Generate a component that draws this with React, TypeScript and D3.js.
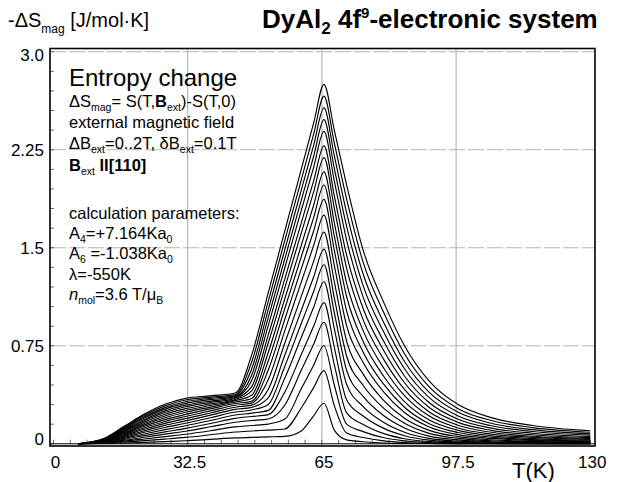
import React from "react";
import * as d3 from "d3";

// Temperatures (K) at which every curve is sampled
const T_K = [6, 12, 17, 22, 27, 32, 38, 44, 48, 52, 56, 60, 63, 65.5, 68, 71, 75, 80, 85, 91, 98, 106, 116, 130];

// -ΔS_mag (J/mol·K) for ΔB_ext = 0.1 T ... 2.0 T
const s01 = [0, .002, .006, .011, .017, .023, .034, .045, .049, .053, .057, .098, .214, .31, .105, .030, .016, .006, .003, .002, .001, .001, .0005, .0003];
const s02 = [0, .004, .013, .024, .036, .049, .069, .09, .098, .105, .113, .274, .430, .56, .292, .082, .048, .022, .010, .004, .0015, .001, .0005, .0003];
const s03 = [0, .006, .020, .037, .055, .073, .100, .13, .140, .151, .189, .421, .601, .75, .45, .15, .093, .046, .022, .009, .004, .002, .001, .0005];
const s04 = [0, .008, .027, .050, .074, .096, .130, .165, .178, .190, .295, .562, .762, .93, .605, .236, .148, .078, .039, .017, .008, .004, .002, .001];
const s05 = [0, .010, .034, .063, .091, .118, .155, .195, .209, .223, .395, .683, .899, 1.08, .738, .335, .213, .118, .062, .028, .013, .007, .004, .002];
const s06 = [0, .012, .041, .075, .108, .138, .178, .22, .235, .256, .501, .813, 1.045, 1.24, .882, .454, .285, .163, .089, .042, .021, .011, .006, .004];
const s07 = [0, .014, .049, .088, .125, .157, .199, .243, .259, .301, .592, .920, 1.165, 1.37, 1.003, .561, .363, .214, .121, .059, .030, .016, .010, .006];
const s08 = [0, .016, .055, .100, .141, .175, .219, .263, .279, .352, .678, 1.020, 1.276, 1.49, 1.117, .670, .446, .271, .157, .080, .042, .023, .014, .009];
const s09 = [0, .018, .062, .111, .156, .193, .236, .28, .296, .415, .769, 1.128, 1.396, 1.62, 1.24, .784, .533, .331, .196, .103, .055, .031, .019, .012];
const s10 = [0, .020, .069, .123, .171, .209, .252, .295, .311, .490, .864, 1.237, 1.517, 1.75, 1.365, .903, .622, .395, .239, .129, .070, .041, .026, .017];
const s11 = [0, .022, .076, .134, .185, .225, .267, .308, .325, .564, .951, 1.338, 1.628, 1.87, 1.482, 1.015, .701, .454, .280, .154, .086, .051, .032, .021];
const s12 = [0, .024, .082, .145, .199, .241, .281, .32, .346, .634, 1.033, 1.431, 1.730, 1.98, 1.591, 1.125, .782, .515, .323, .182, .103, .062, .040, .027];
const s13 = [0, .026, .089, .155, .213, .255, .293, .33, .371, .699, 1.108, 1.518, 1.825, 2.08, 1.693, 1.228, .864, .578, .368, .212, .121, .074, .049, .033];
const s14 = [0, .027, .095, .166, .226, .269, .305, .339, .405, .771, 1.191, 1.612, 1.927, 2.19, 1.804, 1.341, .948, .644, .416, .244, .142, .088, .058, .040];
const s15 = [0, .029, .101, .176, .239, .283, .316, .347, .438, .831, 1.260, 1.690, 2.012, 2.28, 1.899, 1.441, 1.033, .712, .467, .278, .164, .103, .069, .047];
const s16 = [0, .031, .108, .186, .252, .296, .327, .354, .484, .904, 1.345, 1.785, 2.115, 2.39, 2.012, 1.557, 1.120, .782, .519, .314, .188, .120, .081, .056];
const s17 = [0, .033, .114, .197, .265, .309, .338, .361, .527, .966, 1.414, 1.863, 2.200, 2.48, 2.108, 1.661, 1.208, .853, .574, .353, .213, .138, .094, .066];
const s18 = [0, .034, .120, .207, .277, .322, .348, .367, .574, 1.027, 1.484, 1.941, 2.284, 2.57, 2.204, 1.765, 1.297, .927, .630, .393, .241, .157, .108, .076];
const s19 = [0, .036, .126, .217, .290, .335, .357, .376, .626, 1.090, 1.555, 2.020, 2.369, 2.66, 2.302, 1.872, 1.388, 1.003, .689, .435, .269, .178, .124, .088];
const s20 = [0, .038, .132, .227, .302, .348, .367, .389, .680, 1.154, 1.627, 2.100, 2.455, 2.75, 2.40, 1.98, 1.48, 1.08, .75, .48, .30, .20, .14, .10];

const seriesList = [s01, s02, s03, s04, s05, s06, s07, s08, s09, s10, s11, s12, s13, s14, s15, s16, s17, s18, s19, s20];

const yTicks = [0, 0.75, 1.5, 2.25, 3.0];
const yTickLabels = ["0", "0.75", "1.5", "2.25", "3.0"];
const xTicks = [0, 32.5, 65, 97.5, 130];
const xTickLabels = ["0", "32.5", "65", "97.5", "130"];

const FONT = "'Liberation Sans', Arial, Helvetica, sans-serif";

export default function App() {
  const W = 621, H = 482;
  const frame = { left: 50, right: 595, top: 48.5, bottom: 446 };
  const x = d3.scaleLinear().domain([0, 130]).range([53.5, 590.3]);
  const y = d3.scaleLinear().domain([0, 3]).range([443.8, 51.7]);

  const line = d3
    .line<number>()
    .x((_, j) => x(T_K[j]))
    .y((v) => y(v))
    .curve(d3.curveMonotoneX);

  const xMinor = d3.range(0, 130.001, 32.5 / 8);
  const yMinor = d3.range(0, 3.0001, 0.15);

  const sub = 10.5;
  return (
    <svg
      width={W}
      height={H}
      viewBox={`0 0 ${W} ${H}`}
      style={{ position: "fixed", left: 0, top: 0, background: "#fff" }}
      fontFamily={FONT}
    >
      <rect x={0} y={0} width={W} height={H} fill="#fff" />

      {/* grid */}
      {xTicks.slice(1, -1).map((t) => (
        <line key={"gx" + t} x1={x(t)} x2={x(t)} y1={frame.top} y2={frame.bottom} stroke="#a8a8a8" strokeWidth={1} />
      ))}
      {yTicks.slice(1).map((t) => (
        <line key={"gy" + t} x1={frame.left} x2={frame.right} y1={y(t)} y2={y(t)} stroke="#b4b4b4" strokeWidth={1} strokeDasharray="16 3" />
      ))}

      {/* minor ticks */}
      {xMinor.map((t) => (
        <line key={"mx" + t} x1={x(t)} x2={x(t)} y1={y(0)} y2={y(0) - 4} stroke="#444" strokeWidth={0.8} />
      ))}
      {yMinor.map((t) => (
        <line key={"my" + t} x1={frame.left} x2={frame.left + 4} y1={y(t)} y2={y(t)} stroke="#444" strokeWidth={0.8} />
      ))}

      {/* curves */}
      <g fill="none" stroke="#000" strokeWidth={1.15}>
        {seriesList.map((s, i) => (
          <path key={"c" + i} d={line(s) || ""} />
        ))}
      </g>

      {/* axis line + frame */}
      <line x1={frame.left} x2={frame.right} y1={y(0)} y2={y(0)} stroke="#000" strokeWidth={1} />
      <rect x={frame.left} y={frame.top} width={frame.right - frame.left} height={frame.bottom - frame.top} fill="none" stroke="#000" strokeWidth={1.6} />

      {/* tick labels */}
      {yTicks.map((t, i) => (
        <text key={"ty" + t} x={44} y={Math.max(61, Math.min(445, y(t) + 6))} fontSize={17} textAnchor="end" fill="#000">
          {yTickLabels[i]}
        </text>
      ))}
      {xTicks.map((t, i) => (
        <text key={"tx" + t} x={x(t) + 2} y={468} fontSize={17} textAnchor="middle" fill="#000">
          {xTickLabels[i]}
        </text>
      ))}

      {/* axis titles */}
      <text x={8} y={27} fontSize={20} fill="#000">
        -ΔS<tspan fontSize={12} dy={6}>mag</tspan>
        <tspan dy={-6}> [J/mol·K]</tspan>
      </text>
      <text x={262} y={28} fontSize={26} fontWeight="bold" fill="#000">
        DyAl<tspan fontSize={17} dy={6}>2</tspan>
        <tspan dy={-6}> 4f</tspan>
        <tspan fontSize={15} dy={-10}>9</tspan>
        <tspan dy={10}>-electronic system</tspan>
      </text>
      <text x={512} y={478} fontSize={22} fill="#000">T(K)</text>

      {/* annotation block */}
      <g fill="#000" fontSize={16.5}>
        <text x={69} y={86} fontSize={24}>Entropy change</text>
        <text x={69} y={107}>
          ΔS<tspan fontSize={sub} dy={4}>mag</tspan>
          <tspan dy={-4}>= S(T,</tspan>
          <tspan fontWeight="bold">B</tspan>
          <tspan fontSize={sub} dy={4}>ext</tspan>
          <tspan dy={-4}>)-S(T,0)</tspan>
        </text>
        <text x={69} y={128}>external magnetic field</text>
        <text x={69} y={149}>
          ΔB<tspan fontSize={sub} dy={4}>ext</tspan>
          <tspan dy={-4}>=0..2T, δB</tspan>
          <tspan fontSize={sub} dy={4}>ext</tspan>
          <tspan dy={-4}>=0.1T</tspan>
        </text>
        <text x={69} y={171}>
          <tspan fontWeight="bold">B</tspan>
          <tspan fontSize={sub} dy={4}>ext</tspan>
          <tspan dy={-4} fontWeight="bold"> II[110]</tspan>
        </text>
        <text x={69} y={219}>calculation parameters:</text>
        <text x={69} y={239}>
          A<tspan fontSize={sub} dy={4}>4</tspan>
          <tspan dy={-4}>=+7.164Ka</tspan>
          <tspan fontSize={sub} dy={4}>0</tspan>
        </text>
        <text x={69} y={259}>
          A<tspan fontSize={sub} dy={4}>6</tspan>
          <tspan dy={-4}> =-1.038Ka</tspan>
          <tspan fontSize={sub} dy={4}>0</tspan>
        </text>
        <text x={69} y={280}>λ=-550K</text>
        <text x={69} y={300}>
          <tspan fontStyle="italic">n</tspan>
          <tspan fontSize={sub} dy={4}>mol</tspan>
          <tspan dy={-4}>=3.6 T/μ</tspan>
          <tspan fontSize={sub} dy={4}>B</tspan>
        </text>
      </g>
    </svg>
  );
}
